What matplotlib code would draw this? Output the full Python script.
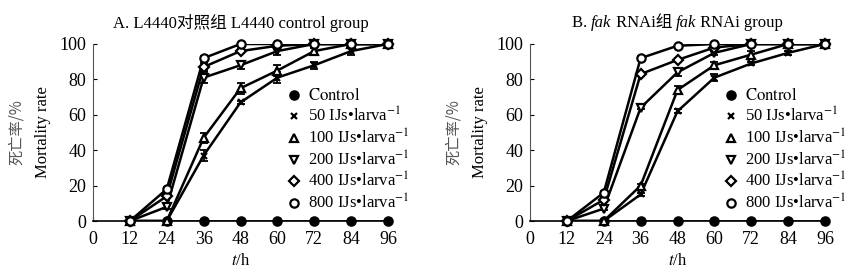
import matplotlib.pyplot as plt

plt.rcParams['font.family'] = ['Liberation Serif', 'Noto Sans CJK SC']
plt.rcParams['mathtext.fontset'] = 'stix'

hours = [12, 24, 36, 48, 60, 72, 84, 96]
labels = ["$\\mathrm{Control}$", "50 IJs\u2022larva$^{-1}$", "100 IJs\u2022larva$^{-1}$",
          "200 IJs\u2022larva$^{-1}$", "400 IJs\u2022larva$^{-1}$", "800 IJs\u2022larva$^{-1}$"]

# A: L4440 control group
a_control = [0, 0, 0, 0, 0, 0, 0, 0]
a_50 = [0, 0, 37, 67, 81, 88, 96, 100]
a_100 = [0, 0, 47, 75, 85, 96, 100, 100]
a_200 = [0, 8, 81, 88, 96, 100, 100, 100]
a_400 = [0, 14, 87, 96, 99, 100, 100, 100]
a_800 = [0, 18, 92, 100, 100, 100, 100, 100]
a_err_50 = [0, 0, 3, 1, 3, 2, 2, 0]
a_err_100 = [0, 0, 3, 3, 3, 2, 0, 0]
a_err_200 = [0, 1, 3, 2, 2, 0, 0, 0]
a_err_400 = [0, 1, 2, 1, 1, 0, 0, 0]
a_err_800 = [0, 1, 1, 0, 0, 0, 0, 0]

# B: fak RNAi group
b_control = [0, 0, 0, 0, 0, 0, 0, 0]
b_50 = [0, 0, 15, 62, 81, 89, 95, 100]
b_100 = [0, 0, 20, 74, 88, 94, 100, 100]
b_200 = [0, 7, 64, 84, 95, 100, 100, 100]
b_400 = [0, 12, 83, 91, 98, 100, 100, 100]
b_800 = [0, 16, 92, 99, 100, 100, 100, 100]
b_err_50 = [0, 0, 1, 1, 2, 1, 1, 0]
b_err_100 = [0, 0, 1, 2, 2, 2, 0, 0]
b_err_200 = [0, 1, 1, 2, 1, 0, 0, 0]
b_err_400 = [0, 1, 1, 1, 1, 0, 0, 0]
b_err_800 = [0, 1, 1, 0, 0, 0, 0, 0]

title_a = [("A. L4440对照组 L4440 control group", 'normal')]
title_b = [("B. ", 'normal'), ("fak", 'italic'), (" RNAi组 ", 'normal'),
           ("fak", 'italic'), (" RNAi group", 'normal')]

markers = ['o', 'x', '^', 'v', 'D', 'o']
msizes = [6, 5, 6, 6, 5, 6]
faces = ['black', 'black', 'white', 'white', 'white', 'white']

fig = plt.figure(figsize=(8.55, 2.76), dpi=100)
ax1 = fig.add_axes([93 / 855, 1 - 221 / 276, 295 / 855, 177 / 276])
ax2 = fig.add_axes([530 / 855, 1 - 221 / 276, 295 / 855, 177 / 276])
renderer = fig.canvas.get_renderer()


def rich_title(ax, pieces, y_px):
    # place title pieces one after another, centred over the axes
    texts = [fig.text(0, 0, s, style=st, fontsize=12) for s, st in pieces]
    widths = [t.get_window_extent(renderer).width for t in texts]
    bb = ax.get_window_extent(renderer)
    x = (bb.x0 + bb.x1) / 2 - sum(widths) / 2
    for t, w in zip(texts, widths):
        t.set_position((x / fig.bbox.width, 1 - y_px / fig.bbox.height))
        t.set_va('center')
        x += w


panels = [
    (ax1, [a_control, a_50, a_100, a_200, a_400, a_800],
     [None, a_err_50, a_err_100, a_err_200, a_err_400, a_err_800], title_a),
    (ax2, [b_control, b_50, b_100, b_200, b_400, b_800],
     [None, b_err_50, b_err_100, b_err_200, b_err_400, b_err_800], title_b),
]

for ax, series, errs, title in panels:
    # high concentrations first so the low ones sit on top
    for i in range(5, -1, -1):
        ax.plot(hours, series[i], color='black', lw=1.8, zorder=2 + i * 0.1)
        if errs[i] is not None:
            ax.errorbar(hours, series[i], yerr=errs[i], fmt='none', ecolor='black',
                        elinewidth=1.3, capsize=3, capthick=1.3, zorder=2)
    handles = []
    for i in range(6):
        h, = ax.plot(hours, series[i], linestyle='none', marker=markers[i], ms=msizes[i],
                     mfc=faces[i], mec='black', mew=1.6, clip_on=False, zorder=4, label=labels[i])
        handles.append(h)
    ax.set_xlim(0, 96)
    ax.set_ylim(0, 100)
    ax.set_xticks(range(0, 97, 12))
    ax.set_yticks(range(0, 101, 20))
    ax.spines['top'].set_visible(False)
    ax.spines['right'].set_visible(False)
    ax.spines['left'].set_color('#555555')
    ax.spines['bottom'].set_linewidth(1.2)
    ax.tick_params(direction='in', length=3, labelsize=13)
    ax.tick_params(axis='y', pad=5)
    ax.tick_params(axis='x', pad=7)
    rich_title(ax, title, 23)
    ax.set_xlabel("$\\mathit{t}$/h", fontsize=12, labelpad=4)
    ax.text(-0.258, 0.5, "死亡率/%", rotation=90, transform=ax.transAxes,
            ha='center', va='center', fontsize=11, color='#555555',
            family=['Noto Sans CJK SC', 'Liberation Serif'])
    ax.text(-0.17, 0.5, "Mortality rate", rotation=90, transform=ax.transAxes,
            ha='center', va='center', fontsize=12)
    ax.legend(handles=handles, loc='upper left', bbox_to_anchor=(0.665, 0.755),
              frameon=False, fontsize=12, handlelength=0.6, handletextpad=0.5,
              labelspacing=0.15, borderaxespad=0, borderpad=0)

fig.savefig("out.png", dpi=100)
